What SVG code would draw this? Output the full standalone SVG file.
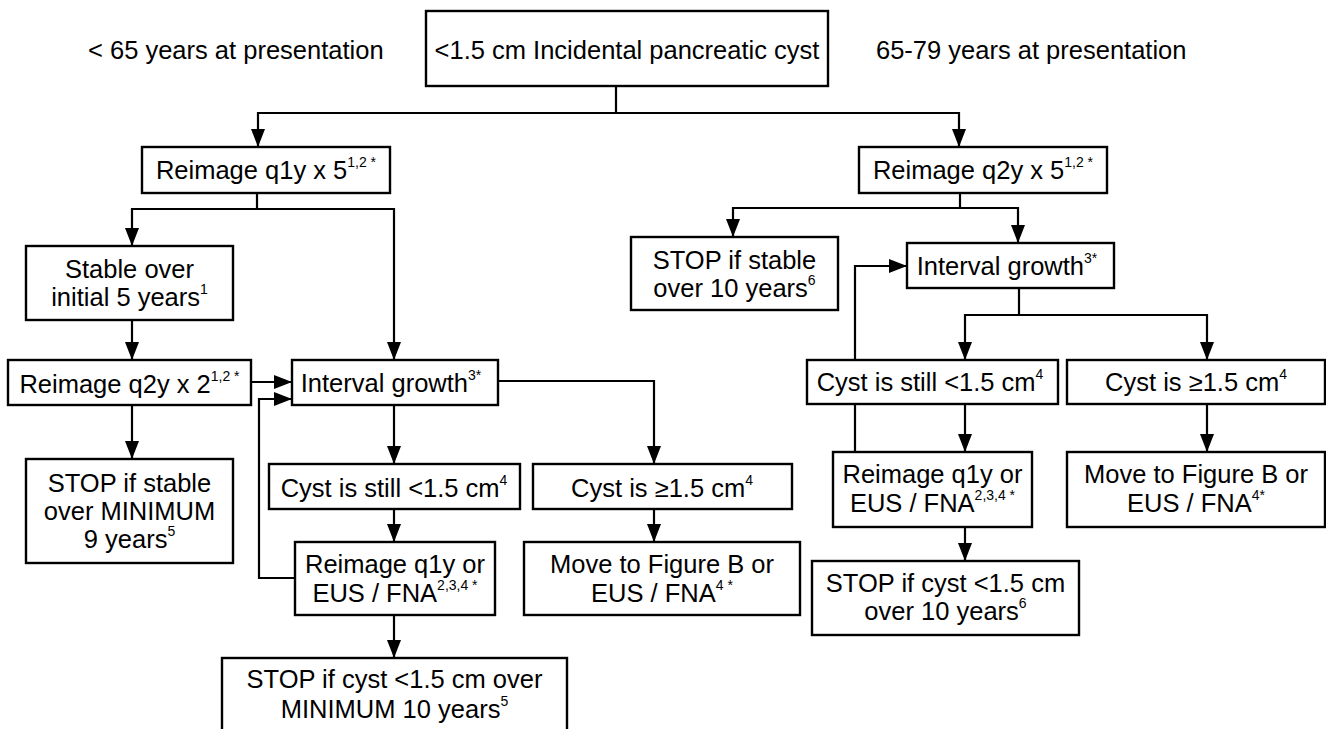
<svg xmlns="http://www.w3.org/2000/svg" width="1326" height="729" viewBox="0 0 1326 729">
  <style>
    .box { fill: #fff; stroke: #000; stroke-width: 2.4; }
    .wire { fill: none; stroke: #000; stroke-width: 2.2; }
    .arrow { fill: none; stroke: #000; stroke-width: 2.2; marker-end: url(#head); }
    text { font-family: "Liberation Sans", Arial, Helvetica, sans-serif; font-size: 25.5px; fill: #000; }
    .c { text-anchor: middle; }
    .sup { font-size: 14px; }
  </style>
  <defs>
    <marker id="head" markerUnits="userSpaceOnUse" markerWidth="18" markerHeight="14" refX="18" refY="7" orient="auto">
      <path d="M0,0 L18,7 L0,14 z" fill="#000"/>
    </marker>
  </defs>

  <rect width="1326" height="729" fill="#fff"/>

  <!-- age labels -->
  <text x="88" y="59">&lt; 65 years at presentation</text>
  <text x="876" y="59">65-79 years at presentation</text>

  <!-- connectors -->
  <g id="connectors">
    <!-- root split -->
    <path class="wire" d="M616,86 V113"/>
    <path class="arrow" d="M616,113 H258 V147"/>
    <path class="arrow" d="M616,113 H959 V147"/>

    <!-- left branch (< 65 years) -->
    <path class="wire" d="M257,193 V209"/>
    <path class="arrow" d="M257,209 H132 V246"/>
    <path class="arrow" d="M257,209 H394 V360"/>
    <path class="arrow" d="M132,320 V360"/>
    <path class="arrow" d="M251,382 H292"/>
    <path class="arrow" d="M132,405 V459"/>
    <path class="arrow" d="M394,405 V464"/>
    <path class="arrow" d="M498,381 H654 V464"/>
    <path class="arrow" d="M394,509 V542"/>
    <path class="arrow" d="M654,509 V542"/>
    <path class="arrow" d="M394,615 V658"/>
    <path class="arrow" d="M295,578 H259 V399 H292"/>

    <!-- right branch (65-79 years) -->
    <path class="wire" d="M960,193 V208"/>
    <path class="arrow" d="M960,208 H733 V237"/>
    <path class="arrow" d="M960,208 H1018 V243"/>
    <path class="wire" d="M1019,288 V315"/>
    <path class="arrow" d="M1019,315 H965 V360"/>
    <path class="arrow" d="M1019,315 H1207 V360"/>
    <path class="arrow" d="M855,452 V266 H907"/>
    <path class="arrow" d="M965,404 V452"/>
    <path class="arrow" d="M1207,404 V452"/>
    <path class="arrow" d="M965,527 V561"/>
  </g>

  <!-- root -->
  <g id="root">
    <rect class="box" x="426" y="11" width="402" height="75"/>
    <text class="c" x="627" y="59">&lt;1.5 cm Incidental pancreatic cyst</text>
  </g>

  <!-- left branch nodes -->
  <g id="l-reimage-q1y">
    <rect class="box" x="142" y="147" width="248" height="46"/>
    <text class="c" x="266" y="179">Reimage q1y x 5<tspan class="sup" dy="-12">1,2 *</tspan></text>
  </g>
  <g id="l-stable">
    <rect class="box" x="26" y="246" width="207" height="74"/>
    <text class="c" x="129.5" y="278">Stable over</text>
    <text class="c" x="129.5" y="306">initial 5 years<tspan class="sup" dy="-12">1</tspan></text>
  </g>
  <g id="l-reimage-q2y">
    <rect class="box" x="8" y="360" width="243" height="45"/>
    <text class="c" x="129.5" y="393">Reimage q2y x 2<tspan class="sup" dy="-12">1,2 *</tspan></text>
  </g>
  <g id="l-stop-stable">
    <rect class="box" x="26" y="459" width="207" height="104"/>
    <text class="c" x="129.5" y="492">STOP if stable</text>
    <text class="c" x="129.5" y="520">over MINIMUM</text>
    <text class="c" x="129.5" y="548">9 years<tspan class="sup" dy="-12">5</tspan></text>
  </g>
  <g id="l-growth">
    <rect class="box" x="292" y="360" width="206" height="45"/>
    <text class="c" x="391" y="392">Interval growth<tspan class="sup" dy="-12">3*</tspan></text>
  </g>
  <g id="l-still-small">
    <rect class="box" x="269" y="464" width="251" height="45"/>
    <text class="c" x="394" y="497">Cyst is still &lt;1.5 cm<tspan class="sup" dy="-12">4</tspan></text>
  </g>
  <g id="l-large">
    <rect class="box" x="533" y="464" width="259" height="45"/>
    <text class="c" x="662" y="497">Cyst is ≥1.5 cm<tspan class="sup" dy="-12">4</tspan></text>
  </g>
  <g id="l-reimage-or-eus">
    <rect class="box" x="295" y="542" width="200" height="73"/>
    <text class="c" x="395" y="573">Reimage q1y or</text>
    <text class="c" x="395" y="602">EUS / FNA<tspan class="sup" dy="-12">2,3,4 *</tspan></text>
  </g>
  <g id="l-move">
    <rect class="box" x="524" y="542" width="276" height="73"/>
    <text class="c" x="662" y="573">Move to Figure B or</text>
    <text class="c" x="662" y="602">EUS / FNA<tspan class="sup" dy="-12">4 *</tspan></text>
  </g>
  <g id="l-stop-cyst">
    <rect class="box" x="222" y="658" width="345" height="80"/>
    <text class="c" x="394.5" y="688">STOP if cyst &lt;1.5 cm over</text>
    <text class="c" x="394.5" y="718">MINIMUM 10 years<tspan class="sup" dy="-12">5</tspan></text>
  </g>

  <!-- right branch nodes -->
  <g id="r-reimage-q2y">
    <rect class="box" x="859" y="147" width="248" height="46"/>
    <text class="c" x="983" y="179">Reimage q2y x 5<tspan class="sup" dy="-12">1,2 *</tspan></text>
  </g>
  <g id="r-stop-stable">
    <rect class="box" x="631" y="237" width="207" height="73"/>
    <text class="c" x="734.5" y="269">STOP if stable</text>
    <text class="c" x="734.5" y="297">over 10 years<tspan class="sup" dy="-12">6</tspan></text>
  </g>
  <g id="r-growth">
    <rect class="box" x="907" y="243" width="207" height="45"/>
    <text class="c" x="1007" y="275">Interval growth<tspan class="sup" dy="-12">3*</tspan></text>
  </g>
  <g id="r-still-small">
    <rect class="box" x="807" y="360" width="251" height="44"/>
    <text class="c" x="930" y="391">Cyst is still &lt;1.5 cm<tspan class="sup" dy="-12">4</tspan></text>
  </g>
  <g id="r-large">
    <rect class="box" x="1067" y="360" width="258" height="44"/>
    <text class="c" x="1196" y="391">Cyst is ≥1.5 cm<tspan class="sup" dy="-12">4</tspan></text>
  </g>
  <g id="r-reimage-or-eus">
    <rect class="box" x="833" y="452" width="199" height="75"/>
    <text class="c" x="932.5" y="483">Reimage q1y or</text>
    <text class="c" x="932.5" y="512">EUS / FNA<tspan class="sup" dy="-12">2,3,4 *</tspan></text>
  </g>
  <g id="r-move">
    <rect class="box" x="1067" y="452" width="258" height="75"/>
    <text class="c" x="1196" y="483">Move to Figure B or</text>
    <text class="c" x="1196" y="512">EUS / FNA<tspan class="sup" dy="-12">4*</tspan></text>
  </g>
  <g id="r-stop-cyst">
    <rect class="box" x="812" y="561" width="267" height="74"/>
    <text class="c" x="945.5" y="592">STOP if cyst &lt;1.5 cm</text>
    <text class="c" x="945.5" y="620">over 10 years<tspan class="sup" dy="-12">6</tspan></text>
  </g>
</svg>
